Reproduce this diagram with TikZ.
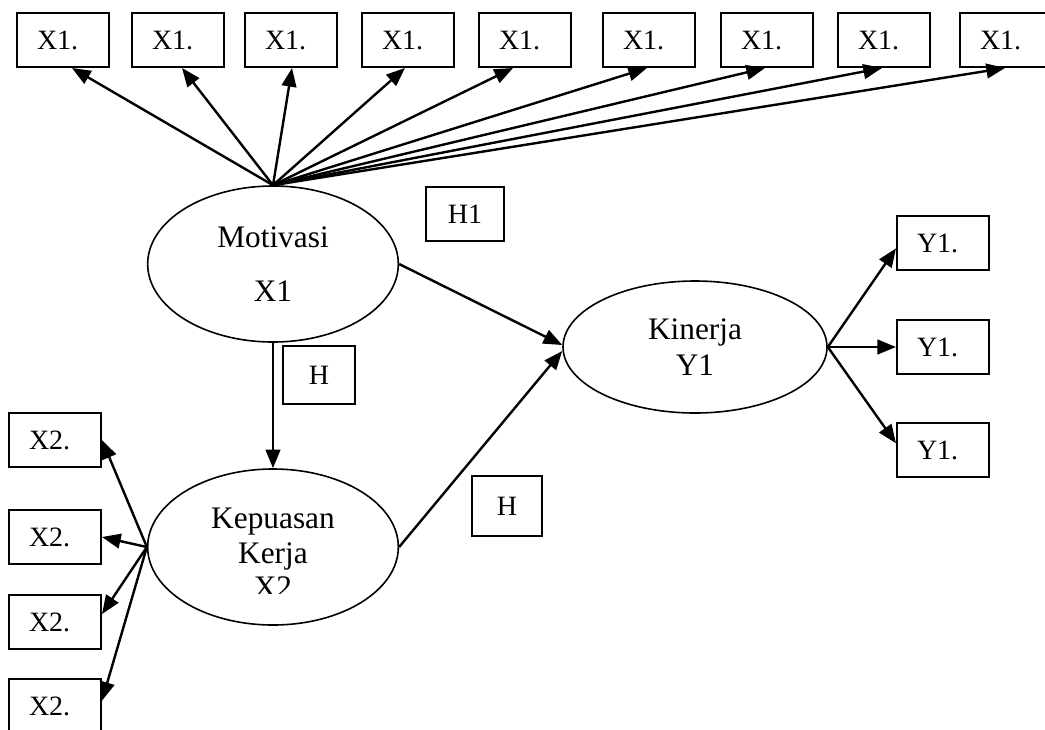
\documentclass[tikz,border=0pt]{standalone}
\usepackage{fontspec}
\setmainfont{Liberation Serif}
\usetikzlibrary{arrows.meta,shapes.geometric,positioning}

\begin{document}
\begin{tikzpicture}[x=0.75pt,y=-0.75pt,
  indicator/.style={draw, line width=1.5pt, inner xsep=15pt, inner ysep=0pt, text width=39pt, align=left, minimum height=40.5pt, font=\fontsize{21}{24}\selectfont},
  hypo/.style={draw, line width=1.5pt, inner sep=0pt, font=\fontsize{21}{24}\selectfont},
  latent/.style={draw, ellipse, line width=1.2pt, inner sep=0pt, minimum width=188pt, minimum height=117pt, align=center, font=\fontsize{23.5}{27}\selectfont},
  link/.style={-{Triangle[length=14pt,width=11pt]}, line width=1.8pt}]

  % Frame
  \clip (0,0) rectangle (1045,729);

  % Latent variables
  \node[latent] (motivasi) at (273,264) {Motivasi\\[14pt]X1};
  \node[latent] (kepuasan) at (273,547) {};
  \node[latent, minimum width=198pt, minimum height=99pt] (kinerja) at (695,347) {Kinerja\\Y1};
  \begin{scope}
    \clip (148,468) rectangle (399,593);
    \node[align=center, font=\fontsize{23.5}{26}\selectfont] (kepuasanlabel) at (273,553) {Kepuasan\\Kerja\\X2};
  \end{scope}

  % Indicators X1
  \foreach \i/\x/\d in {1/63/9, 2/178/4, 3/291/1, 4/408/-3, 5/525/-12, 6/649/-2, 7/767/-2, 8/884/-2, 9/1006/-1} {
    \node[indicator] (xa\i) at (\x,40) {X1.};
    \draw[link] (motivasi.north) -- ([xshift=\d*0.75pt]xa\i.south);
  }

  % Indicators X2
  \foreach \i/\y/\d in {1/440/0, 2/537/0, 3/622/6, 4/706/4} {
    \node[indicator] (xb\i) at (55,\y) {X2.};
    \draw[link] (kepuasan.west) -- ([yshift=\d pt]xb\i.east);
  }

  % Indicators Y1
  \foreach \i/\y/\d in {1/243/-4, 2/347/0, 3/450/5} {
    \node[indicator] (yc\i) at (943,\y) {Y1.};
    \draw[link] (kinerja.east) -- ([yshift=\d pt]yc\i.west);
  }

  % Structural paths
  \draw[link] (motivasi.south) -- (kepuasan.north);
  \draw[link] (motivasi.east) -- ([yshift=1.5pt]kinerja.west);
  \draw[link] (kepuasan.east) -- ([yshift=-3pt]kinerja.west);

  % Hypotheses
  \node[hypo, minimum width=58pt, minimum height=41pt] (h1) at (465,214) {H1};
  \node[hypo, minimum width=54pt, minimum height=43pt] (h2) at (319,375) {H};
  \node[hypo, minimum width=52.5pt, minimum height=45pt] (h3) at (507,506) {H};
\end{tikzpicture}
\end{document}
